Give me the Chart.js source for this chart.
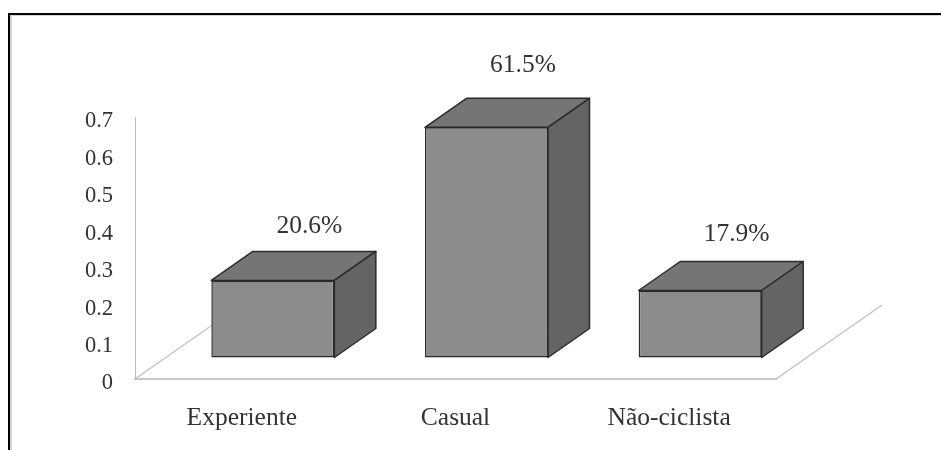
<!DOCTYPE html>
<html>
<head>
<meta charset="utf-8">
<style>
    html, body { margin: 0; padding: 0; background: #fff; overflow: hidden; }
    #frame {
        position: absolute; left: 8px; top: 13px; right: 0; bottom: 0;
        border-top: 2px solid #000; border-left: 2px solid #000;
        box-shadow: inset 2px 1px 0 #d4d4d4;
    }
    #chart { position: absolute; left: 0; top: 0; filter: blur(0.45px); }
</style>
</head>
<body>
<div id="frame"></div>
<canvas id="chart" width="941" height="450"></canvas>
<script src="https://cdnjs.cloudflare.com/ajax/libs/Chart.js/4.4.0/chart.umd.min.js"></script>
<script>
const categories = ['Experiente', 'Casual', 'Não-ciclista'];
const shares = [0.206, 0.615, 0.179];
const yTickLabels = ['0', '0.1', '0.2', '0.3', '0.4', '0.5', '0.6', '0.7'];
const shareLabels = ['20.6%', '61.5%', '17.9%'];

// 3D look: the floor goes back by this much, the bars sit part way in
const floorDepth = { x: 106, y: -74 };
const barShift = { x: 31, y: -21.5 };
const barDepth = { x: 41.5, y: -29 };
const labelNudge = [1, -7, -1];

const font = '"Liberation Serif", "Times New Roman", serif';
const textColor = '#333';
const edgeColor = '#2b2b2b';

function face(ctx, pts, fill) {
    ctx.beginPath();
    pts.forEach((p, i) => i ? ctx.lineTo(p[0], p[1]) : ctx.moveTo(p[0], p[1]));
    ctx.closePath();
    ctx.fillStyle = fill;
    ctx.fill();
    ctx.stroke();
}

const box3d = {
    id: 'box3d',
    beforeDatasetsDraw(chart) {
        const ctx = chart.ctx;
        const area = chart.chartArea;

        // floor lines
        ctx.save();
        ctx.strokeStyle = '#bdbdbd';
        ctx.lineWidth = 1.2;
        [area.left, area.right].forEach(x => {
            ctx.beginPath();
            ctx.moveTo(x, area.bottom);
            ctx.lineTo(x + floorDepth.x, area.bottom + floorDepth.y);
            ctx.stroke();
        });
        ctx.restore();

        // stays translated until afterDatasetsDraw so the bars move with it
        ctx.save();
        ctx.translate(barShift.x, barShift.y);
        ctx.strokeStyle = edgeColor;
        ctx.lineWidth = 1.5;
        ctx.lineJoin = 'round';
        chart.getDatasetMeta(0).data.forEach(bar => {
            const l = bar.x - bar.width / 2;
            const r = bar.x + bar.width / 2;
            const dx = barDepth.x;
            const dy = barDepth.y;
            face(ctx, [[l, bar.y], [r, bar.y], [r + dx, bar.y + dy], [l + dx, bar.y + dy]], '#757575');
            face(ctx, [[r, bar.y], [r + dx, bar.y + dy], [r + dx, bar.base + dy], [r, bar.base]], '#646464');
        });
    },
    afterDatasetsDraw(chart) {
        const ctx = chart.ctx;
        ctx.restore();

        ctx.save();
        ctx.font = '25.5px ' + font;
        ctx.fillStyle = textColor;
        ctx.textAlign = 'center';
        ctx.textBaseline = 'middle';
        chart.getDatasetMeta(0).data.forEach((bar, i) => {
            const x = bar.x + barShift.x + barDepth.x - 5;
            const y = bar.y + barShift.y + barDepth.y - 26 + labelNudge[i];
            ctx.fillText(shareLabels[i], x, y);
        });
        ctx.restore();
    }
};

new Chart(document.getElementById('chart'), {
    type: 'bar',
    data: {
        labels: categories,
        datasets: [{
            data: shares,
            backgroundColor: '#8c8c8c',
            borderColor: edgeColor,
            borderWidth: 1.5,
            borderSkipped: false,
            categoryPercentage: 1,
            barPercentage: 0.5757,
            clip: false
        }]
    },
    options: {
        responsive: false,
        animation: false,
        layout: { padding: { left: 0, top: 117, right: 165, bottom: 0 } },
        plugins: { legend: { display: false }, tooltip: { enabled: false } },
        scales: {
            x: {
                afterFit: s => { s.height = 71; },
                grid: { display: false },
                border: { color: '#c8c8c8', width: 2 },
                ticks: { color: textColor, padding: 16, font: { family: font, size: 25.5 } }
            },
            y: {
                min: 0,
                max: 0.7,
                afterFit: s => { s.width = 135; },
                grid: { display: false },
                border: { color: '#bdbdbd', width: 1 },
                ticks: {
                    stepSize: 0.1,
                    autoSkip: false,
                    padding: 14,
                    labelOffset: 4.5,
                    color: textColor,
                    font: { family: font, size: 22.5 },
                    callback: (v, i) => yTickLabels[i]
                }
            }
        }
    },
    plugins: [box3d]
});
</script>
</body>
</html>
